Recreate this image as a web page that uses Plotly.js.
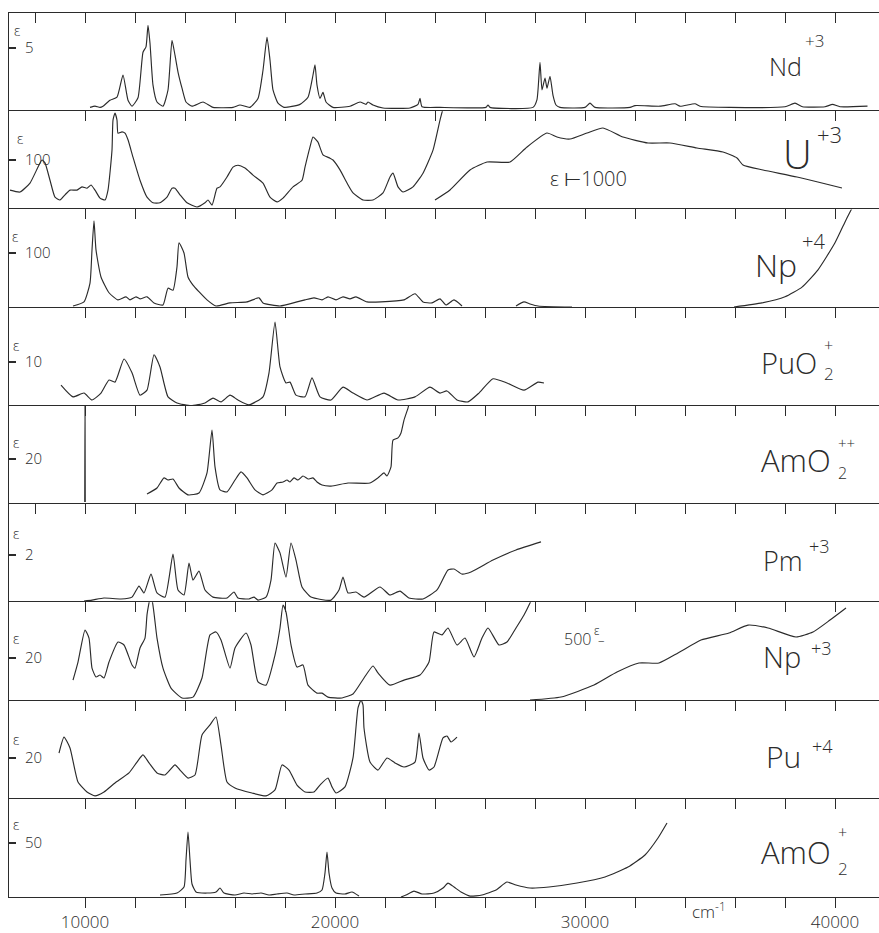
<!DOCTYPE html>
<html><head><meta charset="utf-8">
<script src="https://cdn.plot.ly/plotly-3.0.1.min.js"></script>
<style>html,body{margin:0;padding:0;background:#fff}#chart{width:879px;height:933px}</style>
</head><body><div id="chart"></div>
<script>
// ---------- data (wavenumber in cm^-1, epsilon) ----------
const ndX = [10200,10400,10600,10720,11000,11280,11520,11720,11880,12120,12320,12440,12520,12600,12720,12880,13120,13320,13480,13600,13720,13880,14040,14280,14720,15120,15920,16200,16600,16920,17120,17280,17400,17520,17720,17960,18600,18920,19120,19200,19280,19400,19520,19640,19920,20600,21000,21240,21320,21520,21920,23000,23320,23400,23480,24200,26040,26120,26200,27920,28080,28200,28280,28400,28480,28600,28720,28840,29000,30000,30200,30400,31800,32000,33000,33600,33800,34400,34600,35800,38000,38400,38700,39600,39900,40200,41300];
const ndY = [0.05,0.15,0.05,0.15,0.65,0.9,2.75,0.65,0.15,0.85,4.65,5.1,6.9,5.4,1.9,0.5,0.15,1.5,5.65,4.4,3.0,1.65,0.5,0.15,0.5,0.05,0.05,0.25,0.05,0.8,3.15,5.9,4.0,1.5,0.4,0.05,0.3,0.9,2.75,3.6,1.9,0.8,1.3,0.5,0.05,0.15,0.5,0.3,0.5,0.25,0,0,0.3,0.8,0.1,0.05,0.05,0.25,0.05,0.05,0.7,3.8,1.5,2.5,1.65,2.65,1.05,0.25,0.05,0.05,0.4,0.05,0.05,0.2,0.15,0.35,0.15,0.35,0.15,0.05,0.1,0.4,0.1,0.1,0.3,0.1,0.15];

const u3X = [7000,7400,7800,8120,8280,8400,8600,8800,9000,9200,9400,9680,9880,10080,10240,10400,10600,10800,10920,11080,11120,11200,11280,11320,11480,11600,11720,11920,12200,12480,12720,13000,13280,13480,13600,13800,14080,14480,14800,14920,15080,15280,15400,15680,15920,16120,16400,16720,17120,17400,17680,17920,18320,18680,18800,19000,19120,19320,19520,19800,19920,20200,20480,20720,21120,21520,21920,22200,22320,22520,22720,23120,23520,23920,24200,24360];
const u3Y = [36,32,51,85,100,94,57,21,15,26,36,36,43,40,47,36,19,15,36,121,185,200,185,157,160,157,143,106,57,21,9,9,21,40,40,26,9,0,9,15,4,40,43,64,85,89,83,68,51,21,11,19,43,57,85,128,149,138,111,104,100,79,51,30,15,15,30,64,72,43,32,43,72,121,185,217];
const u3HiX = [24000,24600,25400,26080,27000,27680,28480,28880,29400,30080,30720,31520,32520,33400,34480,35520,36080,36320,37120,38480,40280];
const u3HiY = [149,362,787,957,957,1277,1574,1489,1447,1574,1681,1489,1362,1362,1255,1170,1043,894,787,638,404];

const np4X = [9520,9960,10200,10280,10360,10440,10640,10960,11320,11640,11800,12040,12200,12480,12760,13120,13320,13520,13680,13760,13960,14120,14320,14560,14880,15240,15800,16480,16960,17120,17800,18480,18800,19160,19480,19720,20040,20320,20600,20840,21280,21840,22760,23200,23520,23880,24200,24440,24760,25080,26000,27240,27560,27800,28120,29480,32000,35960,37080,38000,38680,39320,40000,40440,40680];
const np4Y = [-4,4,41,106,163,106,53,22,8,14,8,14,10,14,2,-2,31,27,73,120,100,53,37,24,8,-4,2,4,12,2,-4,4,8,12,8,14,8,14,10,14,4,4,8,20,4,2,10,-2,8,-4,null,-4,4,0,-4,-6,null,-6,2,14,33,67,120,165,188];

const puo2X = [9040,9520,9960,10280,10640,10960,11200,11560,11880,12200,12480,12760,13000,13320,13680,14240,14800,15120,15440,15800,16120,16560,17120,17360,17600,17800,18040,18200,18440,18800,19080,19400,19840,20320,20720,21280,21960,22520,23200,23800,24200,24480,24880,25320,25760,26320,26880,27560,28120,28360];
const puo2Y = [4.5,1.7,2.6,0.95,2.6,5.7,5.2,10.7,7.4,2.1,3.3,11.7,8.8,1.7,0.25,-0.4,0.25,1.4,0.5,2.1,0.95,-0.2,1.7,7.4,19.5,8.8,5.0,5.2,2.1,1.7,6.2,1.7,0.95,4.0,2.6,0.95,2.6,0.95,1.7,4.0,2.6,3.1,0.95,0.5,2.6,6.0,5.0,3.3,5.2,5.0];

const amo2ppX = [9990,10000,10010,11000,12480,12880,13160,13320,13520,13760,14120,14560,14880,15080,15200,15400,15680,16000,16240,16480,16800,17120,17480,17680,17920,18080,18200,18360,18520,18720,18920,19120,19280,19480,19840,20520,21400,21720,21960,22080,22240,22320,22520,22640,22760,22920,23000];
const amo2ppY = [0,50,0,null,3.7,6.5,11.2,10.2,10.7,6.5,3.3,4.2,13.5,33.5,16.3,5.6,4.7,10.2,14.0,11.2,5.6,3.3,5.6,8.8,9.3,10.2,9.3,11.2,10.2,12.1,10.7,11.2,9.3,7.9,7.4,8.8,8.8,11.2,13.5,12.1,16.3,28.8,29.8,32.1,38.1,43.7,47.4];

const pm3X = [9960,10280,10760,11440,11880,12160,12360,12640,12880,13200,13520,13720,13960,14160,14320,14560,14800,15120,15680,15960,16120,16560,16760,16920,17240,17440,17600,17800,18040,18240,18440,18680,19040,19840,20160,20320,20520,20840,21160,21800,22200,22600,22960,23520,24080,24520,24760,25080,25440,26320,27240,28240];
const pm3Y = [0,0.04,0.13,0.09,0.17,0.65,0.35,1.17,0.35,0.17,2.04,0.48,0.26,1.65,0.91,1.30,0.48,0.17,0.13,0.39,0.13,0.09,0.17,0.04,0.17,0.91,2.52,2.09,1.04,2.52,1.78,0.61,0.17,0.04,0.48,1.04,0.35,0.39,0.17,0.61,0.26,0.43,0.13,0.09,0.48,1.35,1.39,1.17,1.26,1.78,2.22,2.57];

const np3X = [9520,9720,10000,10160,10280,10440,10600,10760,10960,11320,11560,11880,12000,12200,12400,12480,12560,12600,12680,12880,13120,13440,13880,14320,14680,15000,15240,15440,15800,16000,16440,16640,16920,17240,17600,17800,17920,18040,18240,18480,18720,18920,19280,19480,19720,20280,20720,21160,21520,21720,22200,22760,23400,23760,23960,24280,24520,24880,25200,25560,25880,26120,26560,26880,27240,27560,27800,27920];
const np3Y = [9.5,18.1,33.3,29.5,15.2,11.0,11.9,10.5,18.1,27.6,26.2,16.7,15.2,24.8,29.5,40.5,46.2,48.6,47.6,29.5,15.2,5.7,1.0,1.4,10.5,31.0,32.4,28.6,15.2,24.8,31.9,26.2,8.6,7.1,21.4,34.3,45.2,41.9,26.2,15.7,16.7,7.1,3.3,3.3,1.4,1.0,2.9,10.5,16.2,12.9,7.1,9.5,11.9,18.1,32.4,31.0,34.3,26.2,29.5,20.5,29.5,34.3,26.2,27.6,34.3,40.5,46.2,49.5];
const np3HiX = [27800,29040,30360,31280,32160,32960,33720,34640,35760,36520,37320,38440,39120,39800,40440];
const np3HiY = [0,31,153,286,378,378,480,612,684,765,735,643,694,816,939];

const pu4X = [8960,9160,9400,9720,10080,10400,10760,11200,11760,12080,12320,12560,12880,13200,13600,13800,14120,14400,14680,15000,15240,15440,15680,16000,16680,17240,17600,17880,18160,18480,18800,19160,19400,19720,19880,20040,20400,20720,20920,21040,21120,21160,21400,21720,22080,22400,22760,23200,23360,23520,23760,23960,24320,24480,24640,24880];
const pu4Y = [22.4,30.2,24.9,8.3,3.4,1.5,3.4,7.8,12.7,18.0,21.5,17.6,12.7,11.7,16.6,14.1,10.2,11.7,31.2,36.1,40.0,26.3,8.3,5.4,2.9,1.5,4.4,16.6,14.1,6.8,3.4,3.4,6.8,10.2,5.9,2.9,5.9,20.0,44.4,48.3,45.9,34.6,18.0,14.1,20.0,17.6,15.6,18.0,32.2,20.0,14.1,15.6,29.8,30.7,27.8,30.2];

const amo2X = [13000,13680,13960,14040,14120,14200,14280,14440,14880,15240,15400,15560,16000,16360,16680,17040,17360,17680,18080,18360,18800,19280,19480,19600,19680,19760,19880,20040,20400,20680,20960,21800,22640,22840,23160,23480,23960,24320,24520,24760,25040,25400,25880,26440,26880,27240,27800,28560,29680,30800,31720,32400,32920,33280];
const amo2Y = [0,1.9,7.7,33.7,60.6,33.7,10.6,2.9,1.9,2.9,6.7,1.9,0,1.9,1.0,1.9,0,1.0,1.9,0,1.0,1.9,4.8,21.2,41.3,21.2,6.7,1.9,1.0,2.9,-1,null,-1.9,0,3.8,1.0,1.9,6.7,11.5,7.7,2.9,-1,0,4.8,12.5,9.6,6.7,7.7,11.5,17.3,26.9,38.5,54.8,69.2];

const yTickVals = [5, 100, 100, 10, 20, 2, 20, 20, 50];
const speciesBase = ['Nd', 'U', 'Np', 'PuO', 'AmO', 'Pm', 'Np', 'Pu', 'AmO'];
const speciesSup  = ['+3', '+3', '+4', '+', '++', '+3', '+3', '+4', '+'];
const speciesSub  = ['', '', '', '2', '2', '', '', '', '2'];
const xMinorStep = 2000;
const xLabelVals = [10000, 20000, 30000, 40000];
const xLabelText = ['10000', '20000', '30000', '40000'];

// ---------- layout helpers ----------
const INK = '#2b2b2b';
const FONT = 'Open Sans, DejaVu Sans, sans-serif';
const X0 = 6960, X1 = 41760;
const TOP = 13, H = 884, L = 9, W = 870;
const pxX = v => (v - L) / W;
const pxY = v => (TOP + H - v) / H;

const series = [
  [ndX, ndY], [u3X, u3Y], [np4X, np4Y], [puo2X, puo2Y], [amo2ppX, amo2ppY],
  [pm3X, pm3Y], [np3X, np3Y], [pu4X, pu4Y], [amo2X, amo2Y]
];
const yRanges = [[-0.27,7.92],[-5.1,203.8],[-7.3,185.5],[-0.45,22.9],[-1.0,44.7],[-0.057,4.21],[-0.24,46.5],[0.1,48.0],[-1.9,92.5]];
const epsPos = [[17,30],[20,138],[15,236],[16,345],[16,442],[16,533],[16,639],[16,739],[16,824]];
// label geometry: [baseLeft, baseCy, baseSize, supLeft, supCy, supSize, subCy]
const labelGeo = [
  [767, 66, 25, 803, 40, 17, 0],
  [781, 153, 40, 815, 134, 22, 0],
  [753, 264, 32, 800, 242, 20, 0],
  [759, 362, 29, 822, 345, 16, 373],
  [759, 460, 31, 836, 443, 15, 473],
  [761, 560, 27, 807, 546, 18, 0],
  [761, 656, 29, 809, 648, 18, 0],
  [764, 756, 30, 810, 746, 18, 0],
  [759, 852, 31, 836, 832, 16, 868]
];

const traces = [];
const layout = {
  width: 879, height: 933,
  margin: {l: L, r: 0, t: TOP, b: 933 - TOP - H},
  paper_bgcolor: '#ffffff', plot_bgcolor: 'rgba(0,0,0,0)',
  showlegend: false,
  font: {family: FONT, color: INK, weight: 300},
  annotations: []
};

const lineStyle = {color: INK, width: 1.15, shape: 'spline', smoothing: 0.5};

for (let i = 0; i < 9; i++) {
  const n = i === 0 ? '' : String(i + 1);
  traces.push({x: series[i][0], y: series[i][1], xaxis: 'x' + n, yaxis: 'y' + n,
    mode: 'lines', line: lineStyle, connectgaps: false, hoverinfo: 'skip'});
  layout['xaxis' + n] = {range: [X0, X1], anchor: 'y' + n, side: 'top', showline: true,
    linecolor: INK, linewidth: 1, ticks: 'inside', ticklen: 10, tickcolor: INK, tickwidth: 1,
    tick0: 0, dtick: xMinorStep, showticklabels: false, showgrid: false, zeroline: false, fixedrange: true};
  layout['yaxis' + n] = {domain: [(8 - i) / 9, (9 - i) / 9], anchor: 'x' + n, range: yRanges[i],
    showline: true, linecolor: INK, linewidth: 1, ticks: 'inside', ticklen: 7, tickcolor: INK, tickwidth: 1.2,
    tickvals: [yTickVals[i]], ticktext: [String(yTickVals[i])], ticklabelposition: 'inside',
    ticklabelstandoff: 9,
    tickfont: {size: 15, color: INK, family: FONT, weight: 300},
    showgrid: false, zeroline: false, fixedrange: true};
  layout.annotations.push({xref: 'paper', yref: 'paper', x: pxX(epsPos[i][0]), y: pxY(epsPos[i][1]),
    text: 'ε', showarrow: false, xanchor: 'center', yanchor: 'middle', font: {size: 14, color: INK}});
  const g = labelGeo[i];
  layout.annotations.push({xref: 'paper', yref: 'paper', x: pxX(g[0]), y: pxY(g[1]), text: speciesBase[i],
    showarrow: false, xanchor: 'left', yanchor: 'middle', font: {size: g[2], color: INK, weight: 300}});
  layout.annotations.push({xref: 'paper', yref: 'paper', x: pxX(g[3]), y: pxY(g[4]), text: speciesSup[i],
    showarrow: false, xanchor: 'left', yanchor: 'middle', font: {size: g[5], color: INK, weight: 300}});
  if (speciesSub[i]) {
    layout.annotations.push({xref: 'paper', yref: 'paper', x: pxX(g[3]), y: pxY(g[6]), text: speciesSub[i],
      showarrow: false, xanchor: 'left', yanchor: 'middle', font: {size: g[5] + 1, color: INK, weight: 300}});
  }
}

// high-absorption continuations on their own scales
traces.push({x: u3HiX, y: u3HiY, xaxis: 'x2', yaxis: 'y10', mode: 'lines', line: lineStyle, hoverinfo: 'skip'});
layout.yaxis10 = {overlaying: 'y2', anchor: 'x2', range: [-51, 2038], visible: false, fixedrange: true};
traces.push({x: np3HiX, y: np3HiY, xaxis: 'x7', yaxis: 'y11', mode: 'lines', line: lineStyle, hoverinfo: 'skip'});
layout.yaxis11 = {overlaying: 'y7', anchor: 'x7', range: [-5.1, 996.9], visible: false, fixedrange: true};

// bottom labelled axis
traces.push({x: [], y: [], xaxis: 'x10', yaxis: 'y9', mode: 'lines', hoverinfo: 'skip'});
layout.xaxis10 = {overlaying: 'x9', anchor: 'y9', side: 'bottom', range: [X0, X1], showline: true,
  linecolor: INK, linewidth: 1, ticks: 'outside', ticklen: 10, tickcolor: INK, tickwidth: 1,
  tickvals: xLabelVals, ticktext: xLabelText, tickfont: {size: 17, color: INK, family: FONT, weight: 300},
  minor: {tick0: 0, dtick: xMinorStep, ticks: 'outside', ticklen: 10, tickcolor: INK, tickwidth: 1, showgrid: false},
  showgrid: false, zeroline: false, fixedrange: true};

layout.annotations.push({xref: 'paper', yref: 'paper', x: pxX(588), y: pxY(163), text: 'ε ⊢1000',
  showarrow: false, font: {size: 20, color: INK, weight: 300}});
layout.annotations.push({xref: 'paper', yref: 'paper', x: pxX(577), y: pxY(652), text: '500',
  showarrow: false, font: {size: 16, color: INK, weight: 300}});
layout.annotations.push({xref: 'paper', yref: 'paper', x: pxX(601), y: pxY(641), text: 'ε',
  showarrow: false, font: {size: 12, color: INK}});
layout.annotations.push({xref: 'paper', yref: 'paper', x: pxX(607), y: pxY(651), text: '–',
  showarrow: false, font: {size: 13, color: INK}});
layout.annotations.push({xref: 'paper', yref: 'paper', x: pxX(728), y: pxY(925), text: 'cm<sup>-1</sup>',
  showarrow: false, font: {size: 17, color: INK, weight: 300}});

Plotly.newPlot('chart', traces, layout, {staticPlot: true, displayModeBar: false});
</script>
</body></html>
